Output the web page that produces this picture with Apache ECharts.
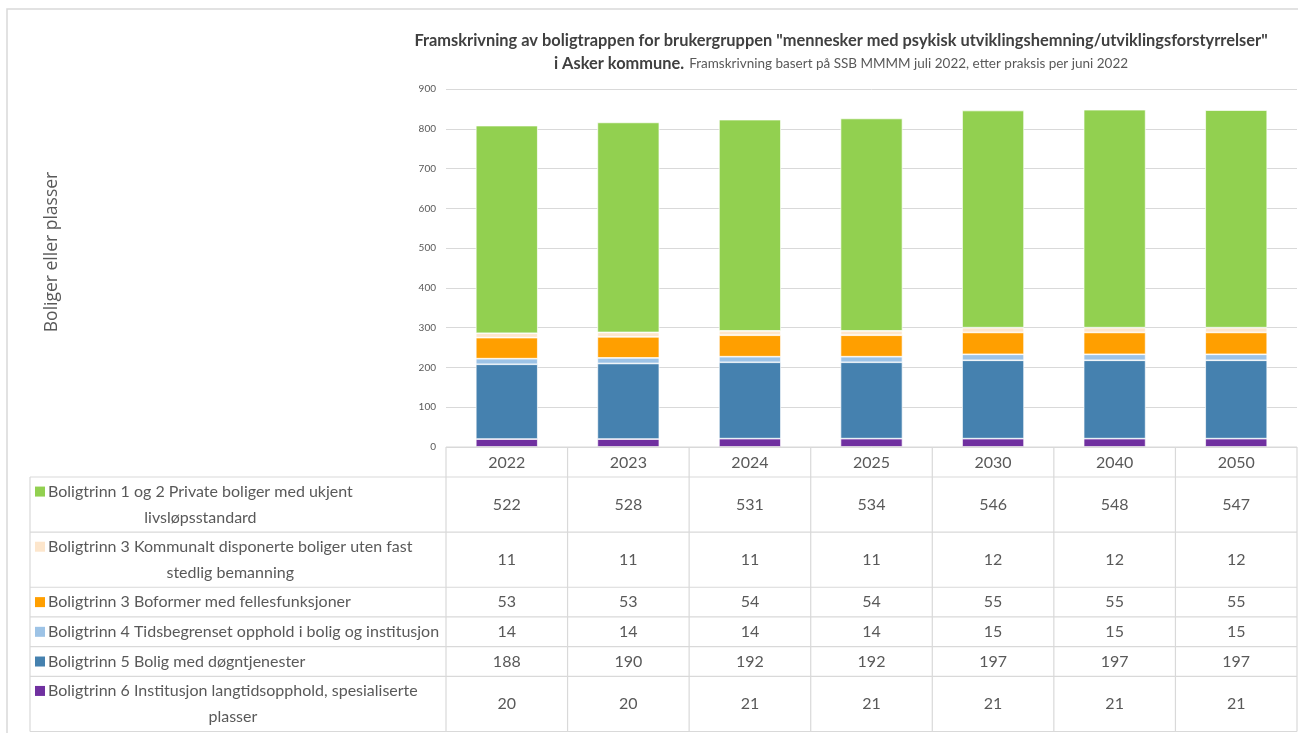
<!DOCTYPE html>
<html><head><meta charset="utf-8">
<script src="https://cdn.jsdelivr.net/npm/echarts@6/dist/echarts.min.js"></script>
<style>html,body{margin:0;padding:0;background:#fff}#c{width:1298px;height:733px}</style>
</head><body><div id="c"></div>
<script>
// ---- data ----
const years = ['2022', '2023', '2024', '2025', '2030', '2040', '2050'];
const yTicks = [0, 100, 200, 300, 400, 500, 600, 700, 800, 900];
const nameB12 = 'Boligtrinn 1 og 2 Private boliger med ukjent\nlivsløpsstandard';
const nameB3K = 'Boligtrinn 3 Kommunalt disponerte boliger uten fast\nstedlig bemanning';
const nameB3B = 'Boligtrinn 3 Boformer med fellesfunksjoner';
const nameB4 = 'Boligtrinn 4 Tidsbegrenset opphold i bolig og institusjon';
const nameB5 = 'Boligtrinn 5 Bolig med døgntjenester';
const nameB6 = 'Boligtrinn 6 Institusjon langtidsopphold, spesialiserte\nplasser';
const valB12 = [522, 528, 531, 534, 546, 548, 547];
const valB3K = [11, 11, 11, 11, 12, 12, 12];
const valB3B = [53, 53, 54, 54, 55, 55, 55];
const valB4 = [14, 14, 14, 14, 15, 15, 15];
const valB5 = [188, 190, 192, 192, 197, 197, 197];
const valB6 = [20, 20, 21, 21, 21, 21, 21];
const titleMain = 'Framskrivning av boligtrappen for brukergruppen "mennesker med psykisk utviklingshemning/utviklingsforstyrrelser"';
const titleBold2 = 'i Asker kommune.';
const titleSub = 'Framskrivning basert på SSB MMMM juli 2022, etter praksis per juni 2022';
const yName = 'Boliger eller plasser';

// ---- styles ----
const F = 'Lato, "Open Sans", sans-serif';
const TXT = '#595959';
const GRID = '#d9d9d9';
// table order (top -> bottom)
const rows = [
  {name: nameB12, vals: valB12, color: '#92D050'},
  {name: nameB3K, vals: valB3K, color: '#FDE6CC'},
  {name: nameB3B, vals: valB3B, color: '#FF9F00'},
  {name: nameB4, vals: valB4, color: '#9DC3E6'},
  {name: nameB5, vals: valB5, color: '#4581AF'},
  {name: nameB6, vals: valB6, color: '#7030A0'}
];
const stackOrder = rows.slice().reverse();

const chart = echarts.init(document.getElementById('c'), null, {renderer: 'canvas'});
const option = {
  animation: false,
  title: {
    text: '{a|' + titleMain + '}\n{a|' + titleBold2 + '} {b|' + titleSub + '}',
    left: 836, top: 24, textAlign: 'center',
    textStyle: {
      rich: {
        a: {fontFamily: F, fontSize: 16.4, fontWeight: 'bold', color: '#404040', lineHeight: 23},
        b: {fontFamily: F, fontSize: 13.5, fontWeight: 'normal', color: TXT, lineHeight: 23}
      }
    }
  },
  grid: {left: 446, right: 1, top: 89, bottom: 286, containLabel: false},
  xAxis: {
    type: 'category', data: years,
    axisLine: {show: false}, axisTick: {show: false},
    axisLabel: {color: TXT, fontFamily: F, fontSize: 16, margin: 8}
  },
  yAxis: {
    type: 'value', min: yTicks[0], max: yTicks[yTicks.length - 1], interval: yTicks[1] - yTicks[0],
    axisLine: {show: false}, axisTick: {show: false},
    axisLabel: {color: TXT, fontFamily: F, fontSize: 10, margin: 10},
    splitLine: {lineStyle: {color: GRID, width: 1}}
  },
  series: stackOrder.map(r => ({
    type: 'bar', stack: 'total', name: r.name.replace('\n', ' '), data: r.vals,
    barWidth: '51%',
    itemStyle: {color: r.color, borderColor: '#ffffff', borderWidth: 0.7}
  }))
};
chart.setOption(option);

// ---- data table built from the same arrays, aligned with the axis ----
const centers = years.map(y => chart.convertToPixel({xAxisIndex: 0}, y));
const step = centers[1] - centers[0];
const colLeft = centers[0] - step / 2;
const colRight = centers[centers.length - 1] + step / 2;
const y0 = chart.convertToPixel({yAxisIndex: 0}, 0);
const headerH = 30;
const tableLeft = 30;
const tableBottom = 731.5;
const lineCounts = rows.map(r => r.name.split('\n').length);
const singleH = 29.7;
const avail = tableBottom - (y0 + headerH);
const nSingle = lineCounts.filter(c => c === 1).length;
const nDouble = lineCounts.length - nSingle;
const doubleH = (avail - nSingle * singleH) / nDouble;

const ctx = document.createElement('canvas').getContext('2d');
const tFont = '16px ' + F;
ctx.font = tFont;

const g = [];
const line = (x1, y1, x2, y2) => g.push({type: 'line', silent: true, z: 50,
  shape: {x1, y1, x2, y2}, style: {stroke: GRID, lineWidth: 1.2}});
const text = (x, y, t, align) => g.push({type: 'text', silent: true, z: 60, x, y,
  style: {text: t, fill: TXT, font: tFont, align: align, verticalAlign: 'middle'}});

// frame
g.push({type: 'rect', silent: true, z: 40, shape: {x: 7, y: 9, width: 1400, height: 900},
  style: {fill: 'none', stroke: GRID, lineWidth: 1.5}});
// header row
line(colLeft, y0, colRight, y0);
let yTop = y0 + headerH;
line(tableLeft, yTop, colRight, yTop);
const rowTops = [];
rows.forEach((r, i) => {
  const h = lineCounts[i] === 2 ? doubleH : singleH;
  rowTops.push([yTop, h]);
  yTop += h;
  line(tableLeft, yTop, colRight, yTop);
});
// vertical lines
line(tableLeft, y0 + headerH, tableLeft, tableBottom);
for (let k = 0; k <= years.length; k++) {
  const x = colLeft + k * step;
  line(x, y0, x, tableBottom);
}
// row contents
rows.forEach((r, i) => {
  const [top, h] = rowTops[i];
  const mid = top + h / 2;
  const parts = r.name.split('\n');
  const firstY = parts.length === 2 ? mid - 13 : mid;
  g.push({type: 'rect', silent: true, z: 60, shape: {x: 35, y: firstY - 5, width: 10, height: 10},
    style: {fill: r.color}});
  text(48, firstY, parts[0], 'left');
  if (parts.length === 2) {
    const w = ctx.measureText(parts[0]).width;
    text(48 + w / 2, mid + 13, parts[1], 'center');
  }
  r.vals.forEach((v, j) => text(centers[j], mid, String(v), 'center'));
});
// y axis name
g.push({type: 'text', silent: true, z: 60, x: 52, y: 252, rotation: Math.PI / 2,
  style: {text: yName, fill: TXT, font: '17.5px "Open Sans", sans-serif', align: 'center', verticalAlign: 'middle'}});

chart.setOption({graphic: {elements: g}});
</script>
</body></html>
